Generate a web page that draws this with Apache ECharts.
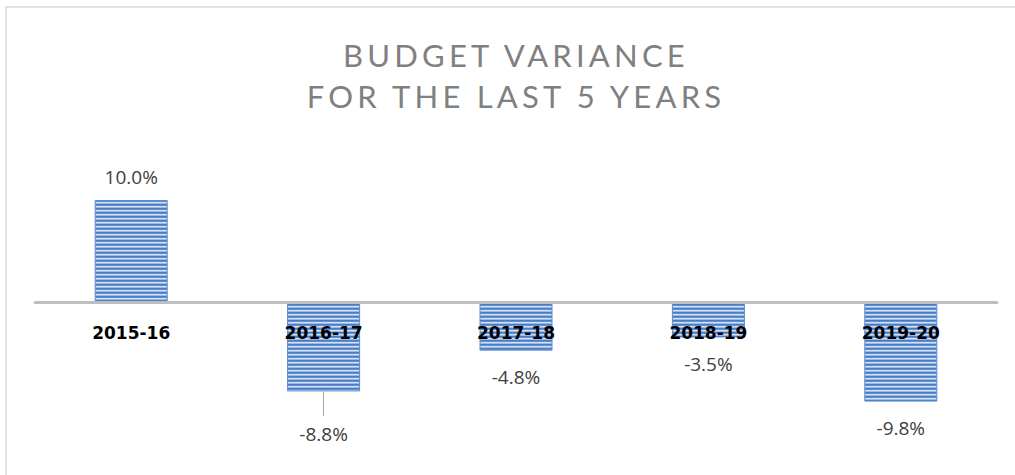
<!DOCTYPE html>
<html>
<head>
<meta charset="utf-8">
<script src="https://cdn.jsdelivr.net/npm/echarts@6/dist/echarts.min.js"></script>
<style>
  html, body { margin: 0; padding: 0; background: #ffffff; }
  #chart { width: 1015px; height: 475px; }
</style>
</head>
<body>
<div id="chart"></div>
<script>
// Budget variance by fiscal year (percent)
const titleLines = ['BUDGET VARIANCE', 'FOR THE LAST 5 YEARS'];
const years = ['2015-16', '2016-17', '2017-18', '2018-19', '2019-20'];
const variance = [10.0, -8.8, -4.8, -3.5, -9.8];

// Horizontal stripe fill for the bars
function stripeTile() {
  const c = document.createElement('canvas');
  c.width = 4; c.height = 4;
  const ctx = c.getContext('2d');
  const rows = ['#4a7cc4', '#608fd2', '#d3e0f3', '#9dbae3'];
  rows.forEach(function (col, i) { ctx.fillStyle = col; ctx.fillRect(0, i, 4, 1); });
  return c;
}
const stripes = { image: stripeTile(), repeat: 'repeat' };

// Label gap below/above each bar end; the second label sits lower with a leader
const labelGap = [14, 33, 17, 17, 17];
const leaderIndex = 1;
const leaderLength = 2.4; // in percentage points below the bar end

const barData = variance.map(function (v, i) {
  return {
    value: v,
    label: { position: v >= 0 ? 'top' : 'bottom', distance: labelGap[i] }
  };
});

const chart = echarts.init(document.getElementById('chart'), null, { renderer: 'svg' });

chart.setOption({
  animation: false,
  backgroundColor: '#ffffff',
  title: {
    text: titleLines.join('\n'),
    left: 511,
    textAlign: 'center',
    top: 29,
    textStyle: {
      fontFamily: 'Lato',
      fontWeight: 'normal',
      fontSize: 31,
      lineHeight: 41,
      color: '#808080'
    }
  },
  graphic: [{
    type: 'rect',
    shape: { x: 6, y: 7, width: 1030, height: 490 },
    style: { fill: 'none', stroke: '#d9d9d9', lineWidth: 1.5 },
    silent: true,
    z: -1
  }],
  grid: { left: 35, right: 18, top: 200, bottom: 51, containLabel: false },
  xAxis: {
    type: 'category',
    data: years,
    offset: -122,
    axisLine: { show: true, onZero: false, lineStyle: { color: '#bfbfbf', width: 3 } },
    axisTick: { show: false },
    axisLabel: {
      margin: 22,
      fontFamily: 'DejaVu Sans',
      fontWeight: 'bold',
      fontSize: 17,
      color: '#000000'
    },
    z: 10
  },
  yAxis: {
    type: 'value',
    min: -12,
    max: 10,
    show: false,
    splitLine: { show: false }
  },
  series: [{
    type: 'bar',
    data: barData,
    barWidth: 73,
    itemStyle: {
      color: stripes,
      borderColor: '#5b8bd0',
      borderWidth: 1
    },
    label: {
      show: true,
      fontFamily: 'Open Sans',
      fontSize: 19,
      color: '#404040',
      formatter: function (p) { return p.value.toFixed(1) + '%'; }
    },
    markLine: {
      silent: true,
      symbol: 'none',
      label: { show: false },
      lineStyle: { color: '#a6a6a6', width: 1, type: 'solid' },
      data: [[
        { coord: [years[leaderIndex], variance[leaderIndex]] },
        { coord: [years[leaderIndex], variance[leaderIndex] - leaderLength] }
      ]]
    }
  }]
});

// Spread the title letters the way the heading is typeset
function spaceTitle() {
  document.querySelectorAll('#chart text').forEach(function (t) {
    if (titleLines.indexOf(t.textContent) >= 0) {
      t.style.letterSpacing = '4.2px';
    }
  });
}
chart.on('finished', spaceTitle);
spaceTitle();
</script>
</body>
</html>
